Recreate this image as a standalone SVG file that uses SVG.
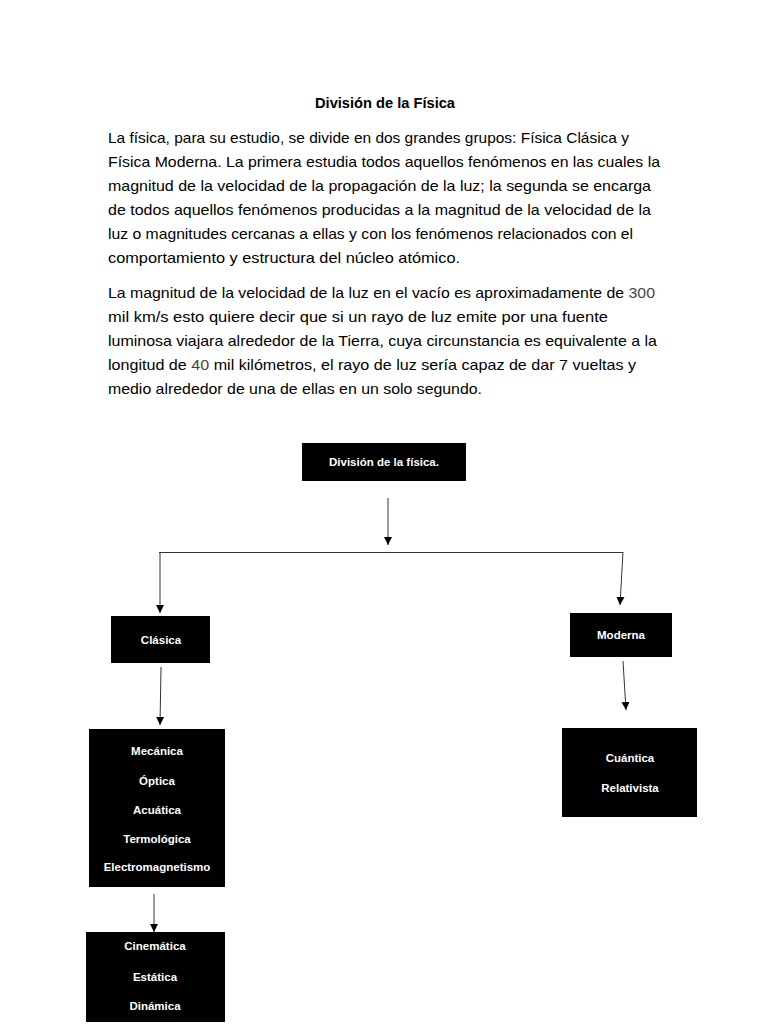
<svg xmlns="http://www.w3.org/2000/svg" width="768" height="1024" viewBox="0 0 768 1024">
<style>
.t{font-family:"Liberation Sans",Arial,sans-serif;font-size:15px;fill:#000}
.ttl{font-family:"Liberation Sans",Arial,sans-serif;font-size:15px;font-weight:bold;fill:#000}
.n{fill:#444}
.box{fill:#000}
.bt{font-family:"Liberation Sans",Arial,sans-serif;font-size:11.5px;font-weight:bold;fill:#fff;text-anchor:middle}
.c{stroke:#333;stroke-width:1;fill:none}
</style>
<defs>
<marker id="ah" viewBox="0 0 8 10" refX="8" refY="5" markerWidth="8" markerHeight="10" markerUnits="userSpaceOnUse" orient="auto">
<path d="M0,1 L8,5 L0,9 Z" fill="#000"/>
</marker>
</defs>
<rect width="768" height="1024" fill="#fff"/>
<g id="text">
<text class="ttl" x="315" y="108" textLength="140" lengthAdjust="spacingAndGlyphs">División de la Física</text>
<text class="t" x="108" y="143" textLength="521" lengthAdjust="spacingAndGlyphs">La física, para su estudio, se divide en dos grandes grupos: Física Clásica y</text>
<text class="t" x="108" y="167" textLength="552" lengthAdjust="spacingAndGlyphs">Física Moderna. La primera estudia todos aquellos fenómenos en las cuales la</text>
<text class="t" x="108" y="191" textLength="543" lengthAdjust="spacingAndGlyphs">magnitud de la velocidad de la propagación de la luz; la segunda se encarga</text>
<text class="t" x="108" y="215" textLength="543" lengthAdjust="spacingAndGlyphs">de todos aquellos fenómenos producidas a la magnitud de la velocidad de la</text>
<text class="t" x="108" y="239" textLength="525" lengthAdjust="spacingAndGlyphs">luz o magnitudes cercanas a ellas y con los fenómenos relacionados con el</text>
<text class="t" x="108" y="263" textLength="352" lengthAdjust="spacingAndGlyphs">comportamiento y estructura del núcleo atómico.</text>
<text class="t" x="108" y="298" textLength="547" lengthAdjust="spacingAndGlyphs">La magnitud de la velocidad de la luz en el vacío es aproximadamente de <tspan class="n">300</tspan></text>
<text class="t" x="108" y="322" textLength="500" lengthAdjust="spacingAndGlyphs">mil km/s esto quiere decir que si un rayo de luz emite por una fuente</text>
<text class="t" x="108" y="346" textLength="549" lengthAdjust="spacingAndGlyphs">luminosa viajara alrededor de la Tierra, cuya circunstancia es equivalente a la</text>
<text class="t" x="108" y="370" textLength="528" lengthAdjust="spacingAndGlyphs">longitud de <tspan class="n">40</tspan> mil kilómetros, el rayo de luz sería capaz de dar 7 vueltas y</text>
<text class="t" x="108" y="394" textLength="374" lengthAdjust="spacingAndGlyphs">medio alrededor de una de ellas en un solo segundo.</text>
</g>
<g id="connectors">
<line class="c" x1="388" y1="498" x2="388" y2="545" marker-end="url(#ah)"/>
<line class="c" x1="159" y1="552.5" x2="623" y2="552.5"/>
<line class="c" x1="160" y1="552" x2="160" y2="613" marker-end="url(#ah)"/>
<line class="c" x1="623" y1="552" x2="620" y2="605" marker-end="url(#ah)"/>
<line class="c" x1="161" y1="667" x2="160" y2="725" marker-end="url(#ah)"/>
<line class="c" x1="623" y1="661" x2="626" y2="710" marker-end="url(#ah)"/>
<line class="c" x1="154" y1="894" x2="154" y2="932" marker-end="url(#ah)"/>
</g>
<g id="n-division">
<rect class="box" x="302" y="443" width="164" height="38"/>
<text class="bt" x="384" y="466">División de la física.</text>
</g>
<g id="n-clasica">
<rect class="box" x="111" y="616" width="99" height="47"/>
<text class="bt" x="161" y="644">Clásica</text>
</g>
<g id="n-moderna">
<rect class="box" x="570" y="613" width="102" height="44"/>
<text class="bt" x="621" y="639">Moderna</text>
</g>
<g id="n-ramas-clasica">
<rect class="box" x="89" y="729" width="136" height="158"/>
<text class="bt" x="157" y="755">Mecánica</text>
<text class="bt" x="157" y="785">Óptica</text>
<text class="bt" x="157" y="814">Acuática</text>
<text class="bt" x="157" y="843">Termológica</text>
<text class="bt" x="157" y="871">Electromagnetismo</text>
</g>
<g id="n-ramas-moderna">
<rect class="box" x="562" y="728" width="135" height="89"/>
<text class="bt" x="630" y="762">Cuántica</text>
<text class="bt" x="630" y="792">Relativista</text>
</g>
<g id="n-mecanica">
<rect class="box" x="86" y="932" width="139" height="90"/>
<text class="bt" x="155" y="950">Cinemática</text>
<text class="bt" x="155" y="981">Estática</text>
<text class="bt" x="155" y="1010">Dinámica</text>
</g>
</svg>
